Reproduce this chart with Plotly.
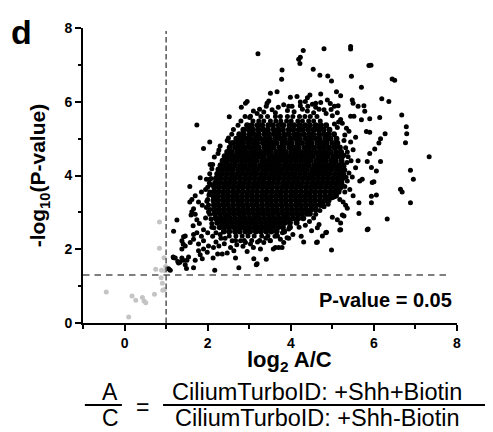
import math
import plotly.graph_objects as go

# ---------------- thresholds ----------------
log2fc_cut = 1.0
p_cut = 0.05
logp_cut = -math.log10(p_cut)

# ---------------- data (log2 A/C, -log10 P) ----------------
# non-significant proteins (grey)
grey_pts = [
    (0.84, 2.74), (0.84, 2.03), (0.95, 1.77), (0.75, 1.46), (0.89, 1.43), (0.98, 1.42),
    (0.99, 1.53), (0.88, 1.23), (0.91, 1.08), (0.92, 0.89), (0.96, 0.91), (-0.44, 0.84),
    (0.18, 0.73), (0.27, 0.62), (0.43, 0.69), (0.47, 0.60), (0.51, 0.55), (0.72, 0.78),
    (0.10, 0.16),
]

top_outliers = [
    (3.21, 7.30), (4.30, 7.39), (4.19, 7.15), (4.23, 7.21), (4.22, 7.04), (4.80, 7.44), (5.44, 7.50),
    (5.44, 7.43), (5.88, 6.98), (5.93, 6.99), (3.79, 6.86), (3.78, 6.61), (4.54, 6.88), (4.70, 6.72),
    (4.89, 6.70), (4.98, 6.56), (5.46, 6.69), (5.70, 6.39), (6.44, 6.62), (6.50, 6.58), (3.67, 6.27),
    (3.51, 6.23), (5.10, 6.27), (5.20, 6.16), (6.19, 6.08), (6.36, 6.01), (5.48, 6.05), (5.50, 5.96),
    (5.62, 5.88), (5.76, 5.89), (5.78, 5.74), (6.67, 5.64), (6.14, 5.57), (5.90, 5.54), (5.70, 5.51),
    (5.44, 5.61), (5.52, 5.61), (5.12, 5.70), (5.14, 5.89), (4.97, 5.79), (4.88, 6.05), (4.72, 6.21),
    (4.46, 6.18), (4.40, 6.11), (4.15, 6.14), (3.99, 6.12), (2.95, 6.01), (2.91, 5.96), (2.81, 5.85),
    (3.43, 5.96), (3.47, 6.02), (3.41, 5.88), (3.83, 5.92), (3.95, 5.88), (4.03, 5.88), (4.23, 5.89),
    (4.41, 5.88), (4.60, 5.96), (2.52, 5.59), (1.74, 5.37), (3.19, 5.68), (3.03, 5.61), (3.01, 5.57),
    (3.63, 5.70),
]

right_outliers = [
    (6.78, 5.32), (6.79, 5.13), (6.76, 4.89), (6.27, 5.13), (6.16, 5.00), (6.12, 4.88), (6.02, 4.72),
    (5.90, 4.60), (5.82, 5.19), (5.90, 5.17), (7.33, 4.51), (6.88, 4.14), (6.95, 3.90), (6.16, 4.38),
    (5.94, 4.22), (6.06, 4.12), (5.84, 4.38), (5.62, 4.40), (5.66, 3.85), (5.72, 3.90), (6.00, 3.83),
    (5.36, 3.85), (5.56, 4.21), (5.40, 4.07), (5.28, 4.25), (5.36, 4.64), (5.38, 4.51), (5.56, 5.04),
    (5.44, 4.91), (5.34, 5.28), (5.96, 3.81), (5.48, 3.96), (6.64, 3.63), (6.68, 3.55), (5.94, 3.44),
    (6.06, 3.47), (5.94, 3.26), (5.64, 3.26), (5.64, 2.97), (6.88, 3.26), (6.32, 2.82), (5.32, 3.19),
    (5.36, 3.11), (5.00, 2.87), (5.24, 2.93), (5.12, 2.80), (5.18, 3.35), (5.26, 3.28), (5.16, 3.60),
    (5.30, 3.55), (5.84, 2.53), (5.20, 2.71), (5.20, 2.53), (5.28, 2.90), (4.86, 2.46), (4.76, 2.36),
    (4.62, 2.18), (4.31, 2.20), (4.98, 1.98), (4.68, 2.67), (4.64, 2.58), (4.64, 2.20), (4.84, 2.45),
    (5.18, 2.52), (5.86, 2.55),
]

lower_outliers = [
    (3.79, 2.05), (3.58, 2.01), (3.75, 2.27), (3.41, 1.73), (3.19, 1.61), (3.11, 1.74), (2.75, 1.50),
    (2.67, 1.76), (2.17, 1.43), (3.17, 1.58), (2.95, 1.94), (2.47, 1.90), (2.35, 1.87), (2.24, 1.87),
    (1.99, 1.92), (1.90, 2.01), (1.66, 1.50), (1.49, 1.48), (1.46, 1.58), (1.33, 1.65), (1.18, 1.77),
    (1.38, 1.76), (1.41, 1.70), (1.10, 1.43), (1.06, 1.47), (1.18, 2.49), (1.38, 2.01), (1.46, 2.09),
    (1.26, 2.79), (1.17, 1.79), (1.22, 1.76), (1.28, 1.67), (1.30, 1.63), (1.58, 2.18), (1.42, 2.34),
    (1.66, 2.27), (1.74, 2.45), (1.78, 1.96), (1.82, 1.85), (2.02, 2.09), (2.14, 2.05), (2.27, 2.09),
    (1.70, 1.70), (1.87, 1.74), (3.27, 2.01), (3.63, 2.05), (3.71, 2.05), (3.83, 2.18), (3.91, 2.31),
    (3.51, 2.23), (3.35, 2.18), (3.03, 2.14), (2.91, 2.18), (2.79, 2.23), (2.55, 2.05), (2.59, 2.23),
    (1.38, 2.23), (1.41, 2.14), (1.46, 2.36), (1.66, 2.40), (1.50, 1.70), (1.54, 1.79), (1.65, 2.64),
    (1.74, 2.80), (1.90, 2.53), (1.78, 2.14), (1.90, 2.23), (2.13, 1.76), (2.63, 1.96),
]

left_outliers = [
    (1.90, 4.73), (2.05, 4.91), (2.27, 4.69), (2.47, 4.95), (2.55, 4.89), (1.82, 3.94), (1.97, 3.90),
    (2.71, 5.00), (2.37, 4.42), (2.43, 4.45), (2.55, 4.64), (1.57, 3.70), (1.78, 3.28), (1.87, 3.19),
    (1.97, 3.13), (2.02, 3.02), (1.62, 3.02), (1.60, 2.93), (1.70, 2.95), (2.16, 4.50), (2.06, 4.30),
    (2.05, 3.90), (1.70, 3.45), (1.85, 3.55), (1.62, 3.35), (1.57, 3.28), (1.66, 3.10), (1.80, 2.70),
    (1.95, 2.85), (2.00, 3.35), (2.05, 3.55), (2.08, 3.75), (1.95, 3.62), (2.10, 2.60), (2.00, 2.45),
    (2.12, 2.35), (2.20, 2.20), (2.32, 2.30), (2.40, 2.15), (1.85, 2.35),
]

halo_pts = [
    (4.23, 5.99), (4.35, 6.01), (4.52, 5.93), (4.60, 5.85), (4.72, 5.98), (4.68, 5.80), (4.80, 5.78),
    (4.95, 5.95), (5.05, 5.88), (4.40, 5.75), (4.55, 5.70), (4.28, 5.80), (4.85, 5.68), (5.00, 5.62),
    (5.20, 5.52), (5.24, 5.42), (5.15, 5.45), (2.73, 5.36), (2.62, 5.25), (2.80, 5.48), (2.90, 5.60),
    (3.10, 5.75), (3.25, 5.80), (3.35, 5.72), (3.55, 5.78), (3.70, 5.85), (3.92, 5.76), (4.08, 5.73),
    (2.58, 5.12), (2.50, 5.02), (2.30, 4.80), (2.25, 4.60), (2.12, 4.30), (2.10, 4.18), (2.05, 4.05),
    (2.08, 3.92), (2.04, 3.80), (2.00, 3.68), (2.03, 3.47), (1.98, 3.30), (2.02, 3.20), (2.06, 3.08),
    (2.05, 2.95), (2.08, 2.82), (2.10, 2.70), (2.15, 2.58), (2.20, 2.45), (2.30, 2.40), (2.42, 2.30),
    (2.70, 2.12), (2.85, 2.08), (3.10, 2.05), (3.20, 2.20), (3.40, 2.30), (3.62, 2.35), (3.80, 2.45),
    (3.95, 2.55), (4.05, 2.40), (4.20, 2.60), (4.35, 2.65), (4.45, 2.75), (4.55, 2.85), (4.60, 2.95),
    (4.70, 3.05), (4.80, 3.15), (4.90, 3.22), (5.00, 3.40), (5.10, 3.45), (4.50, 2.50), (4.25, 2.35),
    (3.95, 2.30), (5.30, 3.70), (5.33, 3.95), (5.30, 4.15), (5.35, 4.35), (5.28, 4.55), (5.32, 4.75),
    (5.28, 4.95), (5.30, 5.10), (5.40, 5.20), (5.45, 4.40), (5.50, 4.70), (5.42, 3.62), (5.50, 3.45),
    (5.12, 5.30), (5.05, 5.40),
]

# thinner top and bottom rows of the cloud (-log10 P of the row, log2 A/C values in it)
edge_rows_y = [5.60, 5.48, 2.36, 2.24]
edge_rows_x = [
    [3.28, 3.44, 3.63, 3.75, 3.92, 4.05, 4.21, 4.34, 4.47, 4.63],
    [3.09, 3.23, 3.35, 3.51, 3.64, 3.76, 3.90, 4.01, 4.17, 4.28, 4.43, 4.55, 4.71],
    [2.52, 2.68, 2.83, 2.97, 3.12, 3.30, 3.45, 3.68],
    [2.67, 2.88, 3.06, 3.25, 3.50],
]

# dense core, read row by row
core_rows_y = [5.36, 5.24, 5.12, 5.00, 4.88, 4.76, 4.64, 4.52, 4.40, 4.28, 4.16, 4.04,
               3.92, 3.80, 3.68, 3.56, 3.44, 3.32, 3.20, 3.08, 2.96, 2.84, 2.72, 2.60, 2.48]
core_rows_x = [
    [2.95, 3.06, 3.20, 3.31, 3.46, 3.57, 3.71, 3.82, 3.97, 4.08, 4.21, 4.34, 4.46, 4.60, 4.72, 4.85],
    [2.86, 2.99, 3.09, 3.22, 3.34, 3.45, 3.59, 3.70, 3.81, 3.95, 4.06, 4.19, 4.29, 4.42, 4.55, 4.67,
     4.79, 4.93],
    [2.76, 2.87, 3.01, 3.12, 3.23, 3.37, 3.48, 3.60, 3.71, 3.84, 3.95, 4.08, 4.18, 4.31, 4.44, 4.54,
     4.68, 4.80, 4.91, 5.04],
    [2.69, 2.81, 2.93, 3.03, 3.16, 3.27, 3.40, 3.50, 3.64, 3.76, 3.86, 4.00, 4.12, 4.22, 4.36, 4.47,
     4.60, 4.70, 4.84, 4.95, 5.10],
    [2.61, 2.73, 2.84, 2.97, 3.09, 3.19, 3.33, 3.44, 3.56, 3.66, 3.80, 3.92, 4.02, 4.16, 4.27, 4.40,
     4.50, 4.64, 4.76, 4.86, 5.00, 5.12],
    [2.53, 2.66, 2.77, 2.89, 3.01, 3.13, 3.23, 3.37, 3.48, 3.59, 3.73, 3.83, 3.97, 4.08, 4.19, 4.33,
     4.44, 4.56, 4.69, 4.80, 4.92, 5.05, 5.18],
    [2.47, 2.58, 2.71, 2.82, 2.93, 3.06, 3.17, 3.29, 3.41, 3.52, 3.65, 3.77, 3.88, 4.01, 4.12, 4.24,
     4.36, 4.48, 4.60, 4.72, 4.84, 4.96, 5.09, 5.21],
    [2.41, 2.53, 2.64, 2.77, 2.88, 3.00, 3.12, 3.24, 3.35, 3.48, 3.59, 3.71, 3.82, 3.95, 4.06, 4.18,
     4.30, 4.42, 4.53, 4.66, 4.78, 4.89, 5.02, 5.14, 5.24],
    [2.36, 2.47, 2.60, 2.71, 2.83, 2.95, 3.06, 3.18, 3.31, 3.42, 3.54, 3.66, 3.77, 3.89, 4.01, 4.13,
     4.25, 4.37, 4.48, 4.61, 4.72, 4.84, 4.97, 5.08, 5.22],
    [2.31, 2.43, 2.54, 2.66, 2.79, 2.90, 3.02, 3.13, 3.26, 3.37, 3.49, 3.61, 3.72, 3.85, 3.96, 4.08,
     4.20, 4.32, 4.43, 4.56, 4.67, 4.79, 4.91, 5.03, 5.15, 5.25],
    [2.26, 2.38, 2.50, 2.61, 2.74, 2.85, 2.97, 3.09, 3.20, 3.33, 3.44, 3.56, 3.68, 3.79, 3.91, 4.03,
     4.15, 4.27, 4.38, 4.51, 4.62, 4.74, 4.86, 4.98, 5.11, 5.23],
    [2.23, 2.34, 2.46, 2.58, 2.70, 2.81, 2.93, 3.05, 3.16, 3.28, 3.40, 3.52, 3.63, 3.75, 3.87, 3.99,
     4.10, 4.22, 4.34, 4.46, 4.57, 4.69, 4.81, 4.93, 5.06, 5.18, 5.26],
    [2.20, 2.31, 2.43, 2.55, 2.66, 2.78, 2.90, 3.01, 3.13, 3.25, 3.36, 3.48, 3.60, 3.71, 3.83, 3.95,
     4.07, 4.18, 4.30, 4.42, 4.53, 4.65, 4.77, 4.89, 5.01, 5.13, 5.24],
    [2.18, 2.29, 2.41, 2.52, 2.64, 2.76, 2.87, 2.99, 3.11, 3.22, 3.34, 3.46, 3.57, 3.69, 3.81, 3.92,
     4.04, 4.16, 4.27, 4.39, 4.51, 4.62, 4.74, 4.86, 4.98, 5.10, 5.22],
    [2.16, 2.27, 2.39, 2.50, 2.62, 2.74, 2.85, 2.97, 3.09, 3.20, 3.32, 3.44, 3.55, 3.67, 3.79, 3.90,
     4.02, 4.14, 4.25, 4.37, 4.49, 4.60, 4.72, 4.84, 4.96, 5.08, 5.20],
    [2.15, 2.26, 2.38, 2.49, 2.61, 2.72, 2.84, 2.96, 3.07, 3.19, 3.31, 3.42, 3.54, 3.66, 3.77, 3.89,
     4.01, 4.12, 4.24, 4.36, 4.47, 4.59, 4.71, 4.83, 4.95, 5.06, 5.15],
    [2.14, 2.25, 2.37, 2.48, 2.60, 2.71, 2.83, 2.95, 3.06, 3.18, 3.30, 3.41, 3.53, 3.65, 3.76, 3.88,
     4.00, 4.11, 4.23, 4.35, 4.46, 4.58, 4.70, 4.82, 4.94, 5.05],
    [2.14, 2.25, 2.37, 2.48, 2.60, 2.72, 2.83, 2.95, 3.07, 3.18, 3.30, 3.42, 3.53, 3.65, 3.77, 3.88,
     4.00, 4.12, 4.23, 4.35, 4.47, 4.58, 4.70, 4.82, 4.91],
    [2.15, 2.26, 2.38, 2.49, 2.61, 2.73, 2.84, 2.96, 3.08, 3.19, 3.31, 3.43, 3.54, 3.66, 3.78, 3.89,
     4.01, 4.13, 4.24, 4.36, 4.48, 4.59, 4.71, 4.77],
    [2.16, 2.27, 2.39, 2.51, 2.62, 2.74, 2.86, 2.97, 3.09, 3.21, 3.32, 3.44, 3.56, 3.67, 3.79, 3.91,
     4.02, 4.14, 4.26, 4.37, 4.49, 4.60],
    [2.17, 2.29, 2.41, 2.52, 2.64, 2.76, 2.87, 2.99, 3.11, 3.22, 3.34, 3.46, 3.57, 3.69, 3.81, 3.92,
     4.04, 4.16, 4.27, 4.39, 4.46],
    [2.19, 2.31, 2.43, 2.54, 2.66, 2.78, 2.89, 3.01, 3.13, 3.24, 3.36, 3.48, 3.59, 3.71, 3.83, 3.94,
     4.06, 4.18, 4.30],
    [2.23, 2.35, 2.46, 2.58, 2.70, 2.81, 2.93, 3.05, 3.16, 3.28, 3.40, 3.51, 3.63, 3.75, 3.86, 3.98,
     4.14],
    [2.29, 2.41, 2.52, 2.64, 2.76, 2.87, 2.99, 3.11, 3.22, 3.34, 3.46, 3.57, 3.69, 3.81, 3.98],
    [2.39, 2.52, 2.66, 2.77, 2.91, 3.02, 3.16, 3.28, 3.41, 3.53, 3.66, 3.84],
]

# ---------------- assemble ----------------
sparse = top_outliers + right_outliers + lower_outliers + left_outliers + halo_pts
sp_x = [p[0] for p in sparse]
sp_y = [p[1] for p in sparse]
for yv, xs in zip(edge_rows_y, edge_rows_x):
    sp_x.extend(xs)
    sp_y.extend([yv] * len(xs))
core_x, core_y = [], []
for yv, xs in zip(core_rows_y, core_rows_x):
    core_x.extend(xs)
    core_y.extend([yv] * len(xs))
ns_x = [p[0] for p in grey_pts]
ns_y = [p[1] for p in grey_pts]

FONT = "Arial, 'Liberation Sans', sans-serif"

fig = go.Figure()
fig.add_trace(go.Scatter(x=ns_x, y=ns_y, mode="markers",
                         marker=dict(size=5, color="#c4c4c4", line=dict(width=0)),
                         hoverinfo="x+y"))
fig.add_trace(go.Scatter(x=core_x, y=core_y, mode="markers",
                         marker=dict(size=6, color="black", line=dict(width=0)),
                         hoverinfo="x+y"))
fig.add_trace(go.Scatter(x=sp_x, y=sp_y, mode="markers",
                         marker=dict(size=5, color="black", line=dict(width=0)),
                         hoverinfo="x+y"))

# threshold lines
fig.add_shape(type="line", xref="x", yref="y", x0=log2fc_cut, x1=log2fc_cut, y0=0, y1=7.92,
              line=dict(color="#555555", width=1.5, dash="5.5px,3px"))
fig.add_shape(type="line", xref="x", yref="y", x0=-1, x1=7.85, y0=logp_cut, y1=logp_cut,
              line=dict(color="#555555", width=1.5, dash="6.5px,5px"))

axis_common = dict(showline=True, linewidth=2, linecolor="black", showgrid=False, zeroline=False,
                   ticks="outside", ticklen=6, tickwidth=2, tickcolor="black",
                   tickfont=dict(family=FONT, size=14, color="black", weight="bold"))

fig.update_xaxes(range=[-1, 8], tick0=0, dtick=2,
                 minor=dict(tick0=0, dtick=1, ticks="outside", ticklen=3.5, tickwidth=2,
                            tickcolor="black"), **axis_common)
fig.update_yaxes(range=[0, 8], tick0=0, dtick=2,
                 minor=dict(tick0=0, dtick=1, ticks="outside", ticklen=3.5, tickwidth=2,
                            tickcolor="black"), **axis_common)

ann = []
ann.append(dict(text="<b>d</b>", xref="paper", yref="paper", x=-0.197, y=1.057,
                xanchor="left", yanchor="top", showarrow=False,
                font=dict(family=FONT, size=34, color="black")))
ann.append(dict(text="<b>-log<sub>10</sub>(P-value)</b>", xref="paper", yref="paper",
                x=-0.118, y=0.5, xanchor="center", yanchor="middle", textangle=-90,
                showarrow=False, font=dict(family=FONT, size=21, color="black")))
ann.append(dict(text="<b>log<sub>2</sub> A/C</b>", xref="paper", yref="paper",
                x=0.551, y=-0.128, xanchor="center", yanchor="middle", showarrow=False,
                font=dict(family=FONT, size=22, color="black")))
ann.append(dict(text="<b>P-value = 0.05</b>", xref="paper", yref="paper",
                x=0.992, y=0.078, xanchor="right", yanchor="middle", showarrow=False,
                font=dict(family=FONT, size=20, color="black")))
# ratio definition below the axis
ann.append(dict(text="A", xref="paper", yref="paper", x=0.0722, y=-0.2335,
                xanchor="center", yanchor="middle", showarrow=False,
                font=dict(family=FONT, size=23, color="black")))
ann.append(dict(text="C", xref="paper", yref="paper", x=0.0722, y=-0.321,
                xanchor="center", yanchor="middle", showarrow=False,
                font=dict(family=FONT, size=23, color="black")))
ann.append(dict(text="=", xref="paper", yref="paper", x=0.160, y=-0.285,
                xanchor="center", yanchor="middle", showarrow=False,
                font=dict(family=FONT, size=23, color="black")))
ann.append(dict(text="CiliumTurboID: +Shh+Biotin", xref="paper", yref="paper", x=0.626,
                y=-0.2335, xanchor="center", yanchor="middle", showarrow=False,
                font=dict(family=FONT, size=23.5, color="black")))
ann.append(dict(text="CiliumTurboID: +Shh-Biotin", xref="paper", yref="paper", x=0.626,
                y=-0.321, xanchor="center", yanchor="middle", showarrow=False,
                font=dict(family=FONT, size=23.5, color="black")))

fig.add_shape(type="line", xref="paper", yref="paper", x0=0.005, x1=0.104, y0=-0.278, y1=-0.278,
              line=dict(color="black", width=2))
fig.add_shape(type="line", xref="paper", yref="paper", x0=0.214, x1=1.088, y0=-0.278, y1=-0.278,
              line=dict(color="black", width=2))

# the page body adds an 8 px margin; the figure is sized so the plot sits where the reference has it
fig.update_layout(width=485, height=424, margin=dict(l=75, r=36, t=11.5, b=109.3),
                  plot_bgcolor="white", paper_bgcolor="white", showlegend=False,
                  annotations=ann, font=dict(family=FONT, color="black"))

fig.write_html("out.html")
